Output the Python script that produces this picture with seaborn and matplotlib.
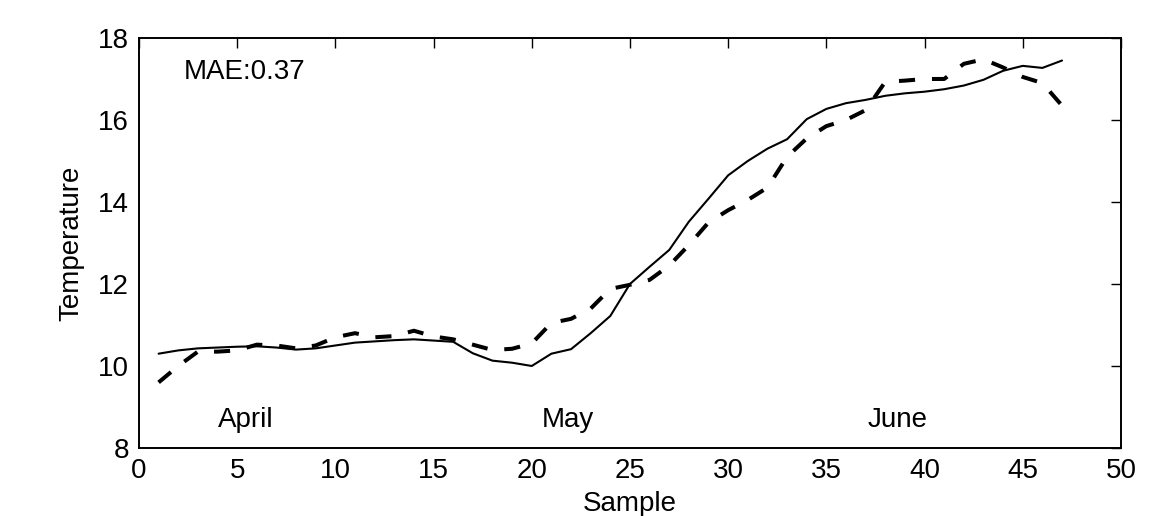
import pandas as pd
import numpy as np
import matplotlib
matplotlib.use('Agg')
import matplotlib.pyplot as plt
import seaborn as sns

# values
sample = list(range(1, 48))
actual = [10.30, 10.38, 10.43, 10.45, 10.47, 10.48, 10.45, 10.40, 10.43, 10.50,
          10.57, 10.60, 10.63, 10.65, 10.62, 10.59, 10.31, 10.13, 10.08, 10.00,
          10.30, 10.41, 10.80, 11.22, 12.00, 12.42, 12.83, 13.52, 14.08, 14.65,
          15.00, 15.30, 15.53, 16.02, 16.27, 16.41, 16.49, 16.59, 16.65, 16.69,
          16.75, 16.84, 16.98, 17.20, 17.32, 17.27, 17.45]
predicted = [9.60, 10.00, 10.35, 10.35, 10.38, 10.52, 10.50, 10.43, 10.50, 10.70,
             10.80, 10.70, 10.73, 10.86, 10.72, 10.65, 10.52, 10.39, 10.42, 10.55,
             11.05, 11.15, 11.40, 11.88, 11.98, 12.10, 12.45, 12.95, 13.50, 13.80,
             14.05, 14.35, 15.10, 15.55, 15.85, 16.00, 16.24, 16.93, 16.96, 17.00,
             17.00, 17.37, 17.48, 17.28, 17.05, 16.90, 16.35]
month_names = ['April', 'May', 'June']
month_x = [4.0, 20.5, 37.1]
month_y = 8.52
mae_label = 'MAE:0.37'

sns.set_theme(style='white')
plt.rcParams['font.family'] = ['Liberation Sans', 'DejaVu Sans']
plt.rcParams['text.color'] = 'black'
plt.rcParams['axes.labelcolor'] = 'black'

df = pd.DataFrame({'Sample': sample, 'actual': actual, 'predicted': predicted})

fig = plt.figure(figsize=(11.58, 5.16), dpi=100)
ax = fig.add_axes([0.12, 0.1318, 0.848, 0.7946])

sns.lineplot(data=df, x='Sample', y='actual', color='black', linewidth=1.5, ax=ax)
sns.lineplot(data=df, x='Sample', y='predicted', color='black', linewidth=2.9, ax=ax)
ax.lines[1].set_dashes((4.0, 4.2))

ax.set_xlim(0, 50)
ax.set_ylim(8, 18)
ax.set_xticks(np.arange(0, 51, 5))
ax.set_yticks(np.arange(8, 19, 2))
ax.tick_params(direction='in', length=7, width=1, top=True, right=True,
               labelsize=20, pad=7, colors='black')
for s in ax.spines.values():
    s.set_visible(True)
    s.set_color('black')
    s.set_linewidth(1.4)

# label kept just inside the canvas (reference crops it slightly)
ax.set_xlabel('Sample', fontsize=20, labelpad=5)
ax.set_ylabel('Temperature', fontsize=20, labelpad=10)

for name, xm in zip(month_names, month_x):
    ax.text(xm, month_y, name, fontsize=20, ha='left', va='baseline')
ax.text(2.3, 17.0, mae_label, fontsize=20, ha='left', va='baseline')

fig.savefig('out.png', dpi=100)
